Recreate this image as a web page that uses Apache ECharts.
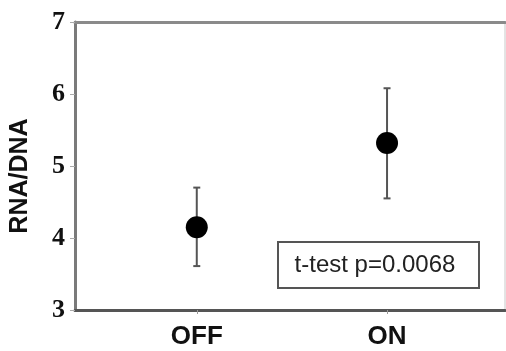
<!DOCTYPE html>
<html>
<head>
<meta charset="utf-8">
<script src="https://cdn.jsdelivr.net/npm/echarts@6/dist/echarts.min.js"></script>
<style>
html,body{margin:0;padding:0;background:#fff;}
#chart{width:506px;height:351px;}
</style>
</head>
<body>
<div id="chart"></div>
<script>
var categories = ['OFF', 'ON'];
var means = [4.15, 5.32];
var upper = [4.70, 6.08];
var lower = [3.61, 4.55];
var yTicks = [3, 4, 5, 6, 7];
var annotation = 't-test p=0.0068';

var chart = echarts.init(document.getElementById('chart'), null, {renderer: 'canvas'});

var pointData = categories.map(function (c, i) { return [i + 1, means[i]]; });
var errData = categories.map(function (c, i) { return [i + 1, lower[i], upper[i]]; });

var option = {
  backgroundColor: '#ffffff',
  animation: false,
  grid: {left: 75, top: 22, right: 1, bottom: 41, show: true, borderColor: '#c8c8c8', borderWidth: 1,
         containLabel: false, outerBoundsMode: 'none'},
  xAxis: [{
    type: 'value', min: 0.36, max: 2.62, position: 'bottom',
    splitLine: {show: false},
    axisLine: {show: true, onZero: false, lineStyle: {color: '#555', width: 3}},
    axisTick: {show: true, customValues: [1, 2], length: 4, inside: false, lineStyle: {color: '#999', width: 1}},
    axisLabel: {
      customValues: [1, 2], margin: 14,
      formatter: function (v) { return categories[Math.round(v) - 1] || ''; },
      fontFamily: 'Liberation Sans', fontWeight: 'bold', fontSize: 26, color: '#111'
    }
  }, {
    type: 'value', min: 0.36, max: 2.62, position: 'top',
    splitLine: {show: false},
    axisLine: {show: true, onZero: false, lineStyle: {color: '#8a8a8a', width: 3}},
    axisTick: {show: false}, axisLabel: {show: false}
  }],
  yAxis: [{
    type: 'value', min: 3, max: 7, interval: 1,
    name: 'RNA/DNA', nameLocation: 'middle', nameRotate: 90, nameGap: 42,
    nameTextStyle: {fontFamily: 'Liberation Sans', fontWeight: 'bold', fontSize: 25, color: '#111', padding: [0, 20, 0, 0]},
    splitLine: {show: false},
    axisLine: {show: true, onZero: false, lineStyle: {color: '#7a7a7a', width: 3}},
    axisTick: {show: true, length: 5, lineStyle: {color: '#aaa', width: 1}},
    axisLabel: {
      margin: 10, fontFamily: 'Liberation Serif', fontWeight: 'bold', fontSize: 26, color: '#111',
      formatter: function (v) { return yTicks.indexOf(v) >= 0 ? String(v) : ''; }
    }
  }],
  series: [{
    type: 'custom',
    xAxisIndex: 0, yAxisIndex: 0,
    data: errData,
    z: 2,
    renderItem: function (params, api) {
      var x = api.value(0);
      var lo = api.coord([x, api.value(1)]);
      var hi = api.coord([x, api.value(2)]);
      var cap = 3.5;
      var st = {stroke: '#555', lineWidth: 2};
      return {
        type: 'group',
        children: [
          {type: 'line', shape: {x1: lo[0], y1: lo[1], x2: hi[0], y2: hi[1]}, style: st},
          {type: 'line', shape: {x1: lo[0] - cap, y1: lo[1], x2: lo[0] + cap, y2: lo[1]}, style: st},
          {type: 'line', shape: {x1: hi[0] - cap, y1: hi[1], x2: hi[0] + cap, y2: hi[1]}, style: st}
        ]
      };
    }
  }, {
    type: 'scatter',
    xAxisIndex: 0, yAxisIndex: 0,
    data: pointData,
    symbol: 'circle', symbolSize: 22,
    itemStyle: {color: '#000', opacity: 1},
    emphasis: {disabled: true},
    z: 3
  }],
  graphic: [{
    type: 'group', left: 277, top: 241,
    children: [
      {type: 'rect', shape: {x: 0, y: 0, width: 201, height: 46}, style: {fill: '#fff', stroke: '#555', lineWidth: 2}},
      {type: 'text', x: 97, y: 23, style: {text: annotation, fontFamily: 'Liberation Sans', fontSize: 24, fill: '#222', align: 'center', verticalAlign: 'middle'}}
    ]
  }]
};
chart.setOption(option);
</script>
</body>
</html>
